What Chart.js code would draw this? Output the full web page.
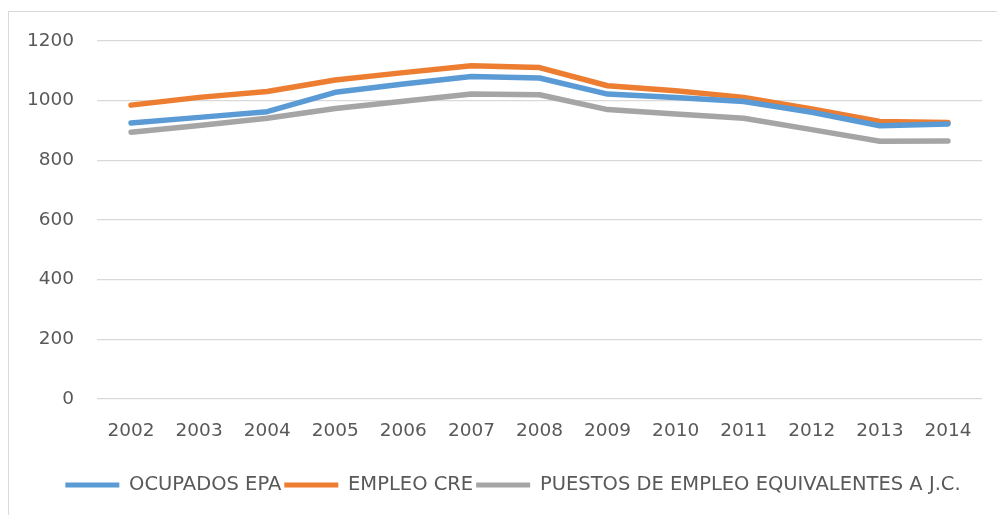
<!DOCTYPE html>
<html>
<head>
<meta charset="utf-8">
<script src="https://cdn.jsdelivr.net/npm/chart.js@4.4.1/dist/chart.umd.min.js"></script>
<style>
  html, body { margin: 0; padding: 0; background: #ffffff; }
  #wrap { position: relative; width: 997px; height: 515px; overflow: hidden; }
  #frame { position: absolute; left: 8px; top: 11px; width: 1000px; height: 520px;
           border-left: 1px solid #d9d9d9; border-top: 1px solid #d9d9d9; box-sizing: border-box; }
  canvas { position: absolute; left: 0; top: 0; }
</style>
</head>
<body>
<div id="wrap">
  <div id="frame"></div>
  <canvas id="c" width="997" height="515"></canvas>
</div>
<script>
const years = ['2002','2003','2004','2005','2006','2007','2008','2009','2010','2011','2012','2013','2014'];
const ocupadosEPA = [925, 944, 963, 1028, 1056, 1081, 1076, 1022, 1011, 997, 961, 916, 922];
const empleoCRE   = [985, 1011, 1031, 1069, 1094, 1117, 1111, 1050, 1033, 1011, 972, 930, 927];
const puestosJC   = [894, 917, 941, 974, 998, 1022, 1020, 970, 955, 941, 903, 864, 865];
const seriesNames = ['OCUPADOS EPA', 'EMPLEO CRE', 'PUESTOS DE EMPLEO EQUIVALENTES A J.C.'];
const yTicks = [0, 200, 400, 600, 800, 1000, 1200];

const colors = ['#5B9BD5', '#ED7D31', '#A5A5A5'];
const textColor = '#595959';
const fontFamily = '"DejaVu Sans", sans-serif';

function ds(label, data, color) {
  return {
    label, data,
    borderColor: color, backgroundColor: color,
    borderWidth: 5.5, pointRadius: 0, pointHoverRadius: 0,
    tension: 0, borderCapStyle: 'round', borderJoinStyle: 'round', fill: false
  };
}

// nudge the legend block slightly right, as in the reference
const legendShift = {
  id: 'legendShift',
  afterLayout(chart) {
    const lg = chart.legend;
    if (lg) { lg.left += 22; lg.right += 22; }
  }
};

new Chart(document.getElementById('c'), {
  type: 'line',
  data: {
    labels: years,
    datasets: [
      ds(seriesNames[0], ocupadosEPA, colors[0]),
      ds(seriesNames[1], empleoCRE, colors[1]),
      ds(seriesNames[2], puestosJC, colors[2])
    ]
  },
  plugins: [legendShift],
  options: {
    responsive: false,
    animation: false,
    events: [],
    layout: { padding: { left: 0, right: 15, top: 41, bottom: 10.25 } },
    plugins: {
      tooltip: { enabled: false },
      legend: {
        position: 'bottom',
        labels: {
          color: textColor,
          font: { family: fontFamily, size: 19.5 },
          boxWidth: 54,
          boxHeight: 5,
          padding: 3,
          useBorderRadius: true,
          borderRadius: 2.5,
          generateLabels(chart) {
            return chart.data.datasets.map((d, i) => ({
              text: d.label, fillStyle: d.borderColor, strokeStyle: d.borderColor,
              lineWidth: 0, hidden: false, datasetIndex: i, fontColor: textColor
            }));
          }
        }
      }
    },
    scales: {
      x: {
        offset: true,
        grid: { display: false, drawTicks: false, offset: true },
        border: { display: false },
        ticks: { color: textColor, font: { family: fontFamily, size: 18.5 }, padding: 21, maxRotation: 0, autoSkip: false },
        afterFit(scale) { scale.height = 73.25; }
      },
      y: {
        min: 0, max: 1200,
        afterBuildTicks(scale) { scale.ticks = yTicks.map(v => ({ value: v })); },
        grid: { color: '#d9d9d9', lineWidth: 1.3, drawTicks: false },
        border: { display: false },
        ticks: { color: textColor, font: { family: fontFamily, size: 18.5 }, padding: 23,
                 callback: (v) => String(v) },
        afterFit(scale) { scale.width = 97; }
      }
    }
  }
});
</script>
</body>
</html>
